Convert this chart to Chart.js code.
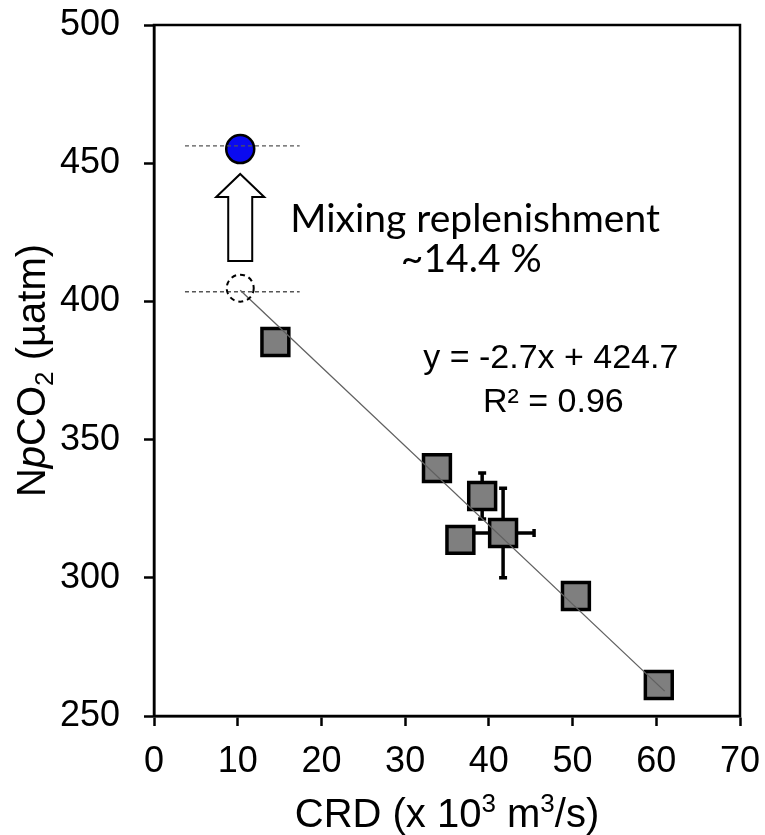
<!DOCTYPE html>
<html>
<head>
<meta charset="utf-8">
<script src="https://cdn.jsdelivr.net/npm/chart.js@4"></script>
<style>
  body { margin: 0; background: #fff; }
  #wrap { width: 765px; height: 835px; }
</style>
</head>
<body>
<div id="wrap"><canvas id="chart" width="765" height="835"></canvas></div>
<script>
// data
const crd = [14.5, 33.8, 39.2, 36.6, 41.7, 50.4, 60.3];
const npco2 = [385.3, 339.7, 329.6, 313.7, 316.2, 293.4, 261.2];
const npco2Err = [0, 0, 8.3, 0, 16.2, 0, 0];
const crdErr = [0, 0, 0, 0, 3.7, 0, 0];

const mixedCrd = [10.3];
const mixedNpco2 = [455.1];
const unmixedCrd = [10.3];
const unmixedNpco2 = [404.8];

const fitX = [10.3, 61.0];
const fitY = [404.0, 259.0];

const guideX = [3.7, 17.4];
const guideTop = [456.3, 456.3];
const guideBottom = [403.5, 403.5];

const xTicks = [0, 10, 20, 30, 40, 50, 60, 70];
const yTicks = [250, 300, 350, 400, 450, 500];

const equationText = ["y = -2.7x + 424.7", "R\u00b2 = 0.96"];
const mixingText = ["Mixing replenishment", "~14.4 %"];

function pts(xs, ys) {
  return xs.map((x, i) => ({ x: x, y: ys[i] }));
}

const extras = {
  id: "extras",
  beforeDatasetsDraw(chart) {
    const ctx = chart.ctx;
    const xs = chart.scales.x, ys = chart.scales.y;
    ctx.save();
    ctx.strokeStyle = "#000";
    ctx.lineWidth = 3.5;
    // error bars, behind the squares
    for (let i = 0; i < crd.length; i++) {
      const px = xs.getPixelForValue(crd[i]);
      const py = ys.getPixelForValue(npco2[i]);
      if (npco2Err[i] > 0) {
        const y1 = ys.getPixelForValue(npco2[i] + npco2Err[i]);
        const y2 = ys.getPixelForValue(npco2[i] - npco2Err[i]);
        ctx.beginPath();
        ctx.moveTo(px, y1); ctx.lineTo(px, y2);
        ctx.moveTo(px - 4, y1); ctx.lineTo(px + 4, y1);
        ctx.moveTo(px - 4, y2); ctx.lineTo(px + 4, y2);
        ctx.stroke();
      }
      if (crdErr[i] > 0) {
        const x1 = xs.getPixelForValue(crd[i] - crdErr[i]);
        const x2 = xs.getPixelForValue(crd[i] + crdErr[i]);
        ctx.beginPath();
        ctx.moveTo(x1, py); ctx.lineTo(x2, py);
        ctx.moveTo(x1, py - 4); ctx.lineTo(x1, py + 4);
        ctx.moveTo(x2, py - 4); ctx.lineTo(x2, py + 4);
        ctx.stroke();
      }
    }
    ctx.restore();
  },
  afterDatasetsDraw(chart) {
    const ctx = chart.ctx;
    const xs = chart.scales.x, ys = chart.scales.y;
    ctx.save();
    // dashed circle (before mixing)
    ctx.setLineDash([5, 4]);
    ctx.lineWidth = 2;
    ctx.strokeStyle = "#000";
    ctx.beginPath();
    ctx.arc(xs.getPixelForValue(unmixedCrd[0]), ys.getPixelForValue(unmixedNpco2[0]), 13.5, 0, Math.PI * 2);
    ctx.stroke();
    ctx.setLineDash([]);

    // hollow arrow
    const ax = xs.getPixelForValue(unmixedCrd[0]);
    const tip = ys.getPixelForValue(446.1);
    const base = ys.getPixelForValue(414.6);
    const headBase = tip + 23;
    ctx.beginPath();
    ctx.moveTo(ax, tip);
    ctx.lineTo(ax + 24, headBase);
    ctx.lineTo(ax + 12, headBase);
    ctx.lineTo(ax + 12, base);
    ctx.lineTo(ax - 12, base);
    ctx.lineTo(ax - 12, headBase);
    ctx.lineTo(ax - 24, headBase);
    ctx.closePath();
    ctx.fillStyle = "#fff";
    ctx.fill();
    ctx.lineWidth = 2;
    ctx.stroke();

    // frame
    const a = chart.chartArea;
    ctx.lineWidth = 2.5;
    ctx.strokeRect(a.left, a.top, a.right - a.left, a.bottom - a.top);

    // annotation texts
    ctx.fillStyle = "#000";
    ctx.textAlign = "center";
    ctx.textBaseline = "alphabetic";
    ctx.font = '39px Lato, "Open Sans", sans-serif';
    ctx.fillText(mixingText[0], xs.getPixelForValue(38.35), ys.getPixelForValue(425.1));
    ctx.fillText(mixingText[1], xs.getPixelForValue(37.9), ys.getPixelForValue(410.6));
    ctx.font = '34px "Liberation Sans", Arial, sans-serif';
    ctx.fillText(equationText[0], xs.getPixelForValue(47.4), ys.getPixelForValue(375.9));
    ctx.fillText(equationText[1], xs.getPixelForValue(47.7), ys.getPixelForValue(360.0));

    // axis titles with sub/superscripts
    const big = '40px "Liberation Sans", Arial, sans-serif';
    const bigItalic = 'italic 40px "Liberation Sans", Arial, sans-serif';
    const small = '26px "Liberation Sans", Arial, sans-serif';
    function runs(parts) {
      let w = 0;
      parts.forEach(p => { ctx.font = p[1]; w += ctx.measureText(p[0]).width; });
      return w;
    }
    function drawRuns(parts, x0, y0) {
      let x = x0;
      ctx.textAlign = "left";
      parts.forEach(p => {
        ctx.font = p[1];
        ctx.fillText(p[0], x, y0 + p[2]);
        x += ctx.measureText(p[0]).width;
      });
    }
    const xTitle = [
      ["CRD (x 10", big, 0], ["3", small, -15], [" m", big, 0], ["3", small, -15], ["/s)", big, 0]
    ];
    const xw = runs(xTitle);
    drawRuns(xTitle, (a.left + a.right) / 2 - xw / 2, 827);

    const yTitle = [
      ["N", big, 0], ["p", bigItalic, 0], ["CO", big, 0], ["2", small, 8], [" (\u00b5atm)", big, 0]
    ];
    const yw = runs(yTitle);
    ctx.translate(45, (a.top + a.bottom) / 2);
    ctx.rotate(-Math.PI / 2);
    drawRuns(yTitle, -yw / 2, 0);
    ctx.restore();
  }
};

const tickFont = { family: '"Liberation Sans", Arial, sans-serif', size: 36 };

new Chart(document.getElementById("chart"), {
  type: "scatter",
  data: {
    datasets: [
      {
        data: pts(fitX, fitY),
        showLine: true,
        borderColor: "#606060",
        borderWidth: 1.3,
        pointRadius: 0,
        order: 0,
      },
      {
        data: pts(guideX, guideTop),
        showLine: true,
        borderColor: "#555",
        borderWidth: 1.3,
        borderDash: [4, 3],
        pointRadius: 0,
        order: 0,
      },
      {
        data: pts(guideX, guideBottom),
        showLine: true,
        borderColor: "#555",
        borderWidth: 1.3,
        borderDash: [4, 3],
        pointRadius: 0,
        order: 0,
      },
      {
        data: pts(mixedCrd, mixedNpco2),
        pointStyle: "circle",
        pointRadius: 14,
        backgroundColor: "#0a0af0",
        borderColor: "#000",
        borderWidth: 2.5,
        order: 1,
      },
      {
        data: pts(crd, npco2),
        pointStyle: "rect",
        pointRadius: 19,
        backgroundColor: "#7f7f7f",
        borderColor: "#000",
        borderWidth: 3.5,
        order: 1,
      },
    ],
  },
  options: {
    responsive: false,
    animation: false,
    layout: { padding: { top: 25, right: 25, left: 0, bottom: 0 } },
    plugins: { legend: { display: false }, tooltip: { enabled: false } },
    scales: {
      x: {
        type: "linear",
        min: xTicks[0],
        max: xTicks[xTicks.length - 1],
        afterBuildTicks: (s) => { s.ticks = xTicks.map(v => ({ value: v })); },
        afterFit: (s) => { s.height = 119; s.paddingLeft = 0; s.paddingRight = 0; },
        grid: { drawOnChartArea: false, tickLength: 10, tickWidth: 2.5, tickColor: "#000" },
        border: { color: "#000", width: 2.5 },
        ticks: { color: "#000", font: tickFont, padding: 14, maxRotation: 0 },
      },
      y: {
        type: "linear",
        min: yTicks[0],
        max: yTicks[yTicks.length - 1],
        afterBuildTicks: (s) => { s.ticks = yTicks.map(v => ({ value: v })); },
        afterFit: (s) => { s.width = 154; s.paddingTop = 0; s.paddingBottom = 0; },
        grid: { drawOnChartArea: false, tickLength: 10, tickWidth: 2.5, tickColor: "#000" },
        border: { color: "#000", width: 2.5 },
        ticks: { color: "#000", font: tickFont, padding: 24 },
      },
    },
  },
  plugins: [extras],
});
</script>
</body>
</html>
